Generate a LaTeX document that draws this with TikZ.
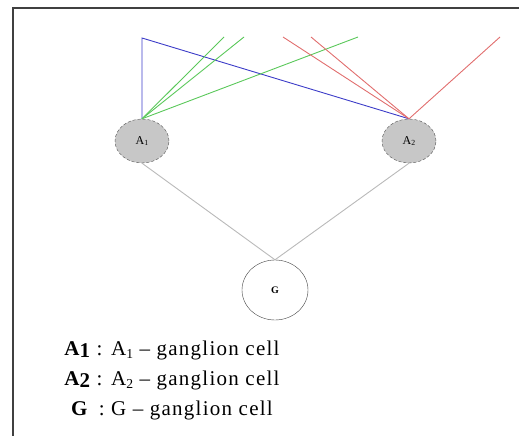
\documentclass[tikz,border=0pt]{standalone}
\usepackage{fontspec}
\setmainfont{Liberation Serif}
\usetikzlibrary{shapes.geometric}
\usepackage{xcolor}

\definecolor{linkblue}{RGB}{60,60,200}
\definecolor{linkgreen}{RGB}{90,200,90}
\definecolor{linkred}{RGB}{225,110,110}
\definecolor{linkgrey}{RGB}{185,185,185}

\newcommand{\lowsub}[1]{\raisebox{-0.3ex}{\scalebox{0.65}{#1}}}

\tikzset{
  acell/.style={ellipse,draw=black!70,densely dashed,thin,fill=black!22,
    minimum width=54pt,minimum height=44pt,inner sep=0pt,font=\fontsize{12}{12}\selectfont},
  gcell/.style={ellipse,draw=black!75,thin,minimum width=66pt,minimum height=60pt,
    inner sep=0pt,font=\bfseries\fontsize{10}{10}\selectfont},
  wire/.style={line width=0.9pt}
}

\begin{document}
\begin{tikzpicture}[x=1pt,y=-1pt]
    \useasboundingbox (0,0) rectangle (519,436);
    % frame
    \draw[line width=2pt,black!75] (13,436) -- (13,8) -- (519,8);

    % cells
    \node[acell] (A1) at (142,141) {A\lowsub{1}};
    \node[acell] (A2) at (409,141) {A\lowsub{2}};
    \node[gcell] (G) at (275,290) {G};

    % free ends at the top
    \coordinate (b0) at (142,38);
    \coordinate (g1) at (224,37);
    \coordinate (g2) at (244,37);
    \coordinate (g3) at (358,37);
    \coordinate (r1) at (283,37);
    \coordinate (r2) at (311,37);
    \coordinate (r3) at (500,37);

    % blue connection
    \draw[wire,linkblue] (A1.north) -- (b0) -- (A2.north);

    % green fibres
    \draw[wire,linkgreen] (A1.north) -- (g1);
    \draw[wire,linkgreen] (A1.north) -- (g2);
    \draw[wire,linkgreen] (A1.north) -- (g3);

    % red fibres
    \draw[wire,linkred] (A2.north) -- (r1);
    \draw[wire,linkred] (A2.north) -- (r2);
    \draw[wire,linkred] (A2.north) -- (r3);

    % to the ganglion cell
    \draw[wire,linkgrey] (A1.south) -- (G.north);
    \draw[wire,linkgrey] (A2.south) -- (G.north);

    % legend
    \node[align=center,font=\fontsize{21}{30}\selectfont\addfontfeature{LetterSpace=6},anchor=north] (legend) at (172,337)
      {\textbf{A\raisebox{-0.2ex}{1}} : A\lowsub{1} -- ganglion cell\\
       \textbf{A\raisebox{-0.2ex}{2}} : A\lowsub{2} -- ganglion cell\\
       \textbf{G} \,: G -- ganglion cell};
\end{tikzpicture}
\end{document}
